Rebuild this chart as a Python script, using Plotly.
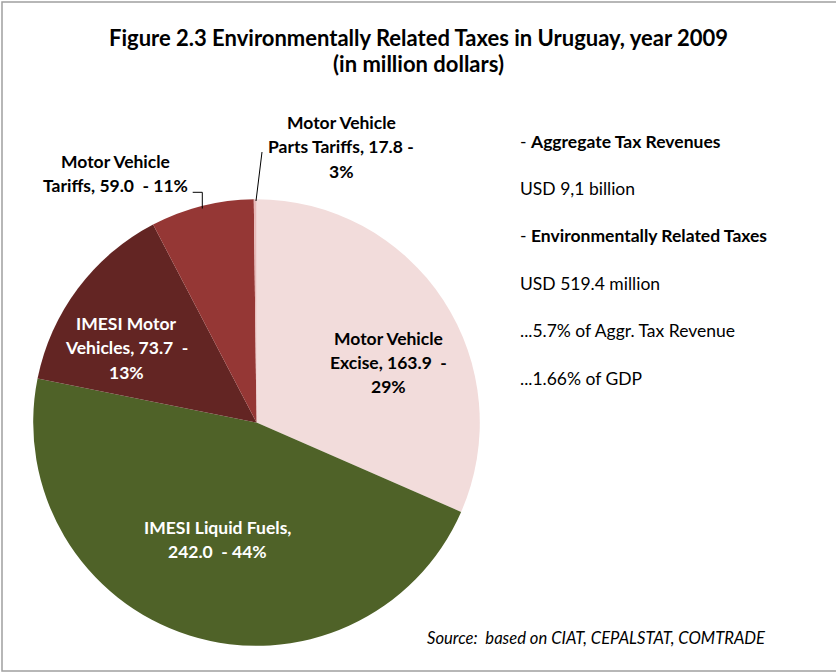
import plotly.graph_objects as go

W, H = 836, 672

# ---- data (slice sizes, labels as printed) ----
categories = ["Motor Vehicle Excise", "IMESI Liquid Fuels", "IMESI Motor Vehicles",
              "Motor Vehicle Tariffs", "Motor Vehicle Parts Tariffs"]
slice_values = [163.9, 242.0, 73.7, 38.8, 1.0]
slice_colors = ["#F2DCDB", "#4F6228", "#632523", "#953735", "#E6B9B8"]

label_excise = ["Motor Vehicle", "Excise, 163.9  -", "29%"]
label_fuels = ["IMESI Liquid Fuels,", "242.0  - 44%"]
label_imesi_mv = ["IMESI Motor", "Vehicles, 73.7  -", "13%"]
label_tariffs = ["Motor Vehicle", "Tariffs, 59.0  - 11%"]
label_parts = ["Motor Vehicle", "Parts Tariffs, 17.8 -", "3%"]

title_lines = ["Figure 2.3 Environmentally Related Taxes in Uruguay, year 2009",
               "(in million dollars)"]
side_notes = ["- <b>Aggregate Tax Revenues</b>", "USD 9,1 billion",
              "- <b>Environmentally Related Taxes</b>", "USD 519.4 million",
              "...5.7% of Aggr. Tax Revenue", "...1.66% of GDP"]
source_text = "Source:  based on CIAT, CEPALSTAT, COMTRADE"

FONT = "Lato"


def px(x):
    return x / W


def py(y):
    return 1 - y / H


# pie geometry in pixels
cx, cy, r = 256.5, 422.5, 223.3

fig = go.Figure(go.Pie(
    labels=categories, values=slice_values, sort=False, direction="clockwise",
    rotation=0, marker=dict(colors=slice_colors, line=dict(width=0)),
    textinfo="none", hoverinfo="label+value", showlegend=False,
    domain=dict(x=[px(cx - r), px(cx + r)], y=[py(cy + r), py(cy - r)]),
))

ann = []


def add_lines(lines, x, y0, dy, size, color="#000", bold=True, align="center"):
    for i, t in enumerate(lines):
        txt = f"<b>{t}</b>" if bold else t
        ann.append(dict(text=txt, x=px(x), y=py(y0 + i * dy), xref="paper", yref="paper",
                        xanchor=align, yanchor="middle", showarrow=False,
                        font=dict(family=FONT, size=size, color=color)))


LS = 17.5
add_lines(title_lines, 418, 37, 26, 22)
add_lines(label_parts, 341, 122, 24.5, LS)
add_lines(label_tariffs, 115, 161, 24.5, LS)
add_lines(label_imesi_mv, 126, 323, 24.5, LS, color="#FFFFFF")
add_lines(label_excise, 388, 338, 24.5, LS)
add_lines(label_fuels, 218, 527, 24.5, LS, color="#FFFFFF")
add_lines(side_notes, 518, 141, 47.4, 17.5, bold=False, align="left")
ann.append(dict(text=f"<i>{source_text}</i>", x=px(425), y=py(638), xref="paper", yref="paper",
                xanchor="left", yanchor="middle", showarrow=False,
                font=dict(family=FONT, size=16.6, color="#000")))

shapes = [
    # chart frame
    dict(type="rect", xref="paper", yref="paper", x0=px(2), x1=px(845), y0=py(671), y1=py(2),
         line=dict(color="#A0A0A0", width=1.5), fillcolor="rgba(0,0,0,0)", layer="below"),
    # leader line for parts tariffs
    dict(type="line", xref="paper", yref="paper", x0=px(256), y0=py(201), x1=px(262), y1=py(152),
         line=dict(color="#000", width=1)),
    # leader line for motor vehicle tariffs
    dict(type="path", xref="paper", yref="paper",
         path=f"M {px(192.7)} {py(192.3)} L {px(202.3)} {py(192.3)} L {px(202.3)} {py(208.5)}",
         line=dict(color="#000", width=1)),
]

fig.update_layout(width=W, height=H, margin=dict(l=0, r=0, t=0, b=0),
                  paper_bgcolor="#FFFFFF", plot_bgcolor="#FFFFFF",
                  annotations=ann, shapes=shapes)

fig.write_html("out.html", config={"displayModeBar": False},
               post_script="document.body.style.margin='0';")
